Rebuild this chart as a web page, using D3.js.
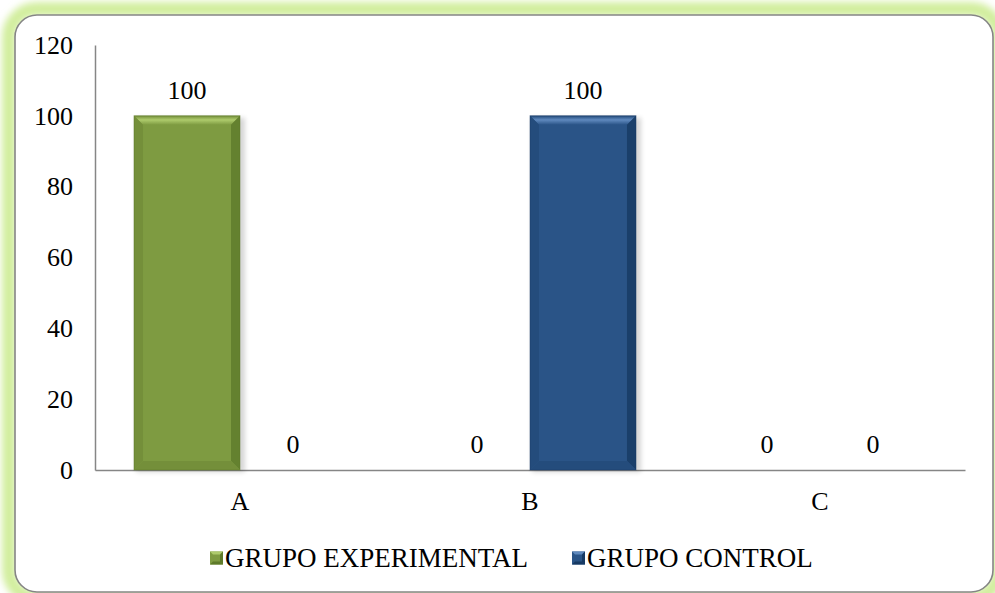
<!DOCTYPE html>
<html>
<head>
<meta charset="utf-8">
<script src="https://cdn.jsdelivr.net/npm/d3@7"></script>
<style>
  html, body { margin: 0; padding: 0; background: #ffffff; }
  svg { display: block; }
  text { font-family: "Liberation Serif", "Times New Roman", serif; fill: #000; }
</style>
</head>
<body>
<svg id="chart" width="995" height="593"></svg>
<script>
// Chart data
const categories = ["A", "B", "C"];
const seriesNames = ["GRUPO EXPERIMENTAL", "GRUPO CONTROL"];
const experimental = [100, 0, 0];
const control = [0, 100, 0];
const yTicks = [0, 20, 40, 60, 80, 100, 120];

const seriesValues = [experimental, control];
const seriesColors = [
  { base: "#7E9B41", light: "#AECB6C", dark: "#5E7A2A", side: "#748F3A" },
  { base: "#2A5487", light: "#5F89BE", dark: "#173A63", side: "#244C7C" }
];

const FONT = "'Liberation Serif', 'Times New Roman', serif";
const FS = "26px";

const svg = d3.select("#chart");
const defs = svg.append("defs");

// Soft green halo around the chart frame
const glow = defs.append("filter").attr("id", "glow")
  .attr("x", "-5%").attr("y", "-5%").attr("width", "110%").attr("height", "110%");
glow.append("feGaussianBlur").attr("stdDeviation", 3.5);

// Light drop shadow under each bar
const shadow = defs.append("filter").attr("id", "barShadow")
  .attr("x", "-20%").attr("y", "-5%").attr("width", "140%").attr("height", "110%");
shadow.append("feGaussianBlur").attr("stdDeviation", 2.5);

// Top bevel gradient
seriesColors.forEach((c, i) => {
  const g = defs.append("linearGradient").attr("id", "bevelTop" + i)
    .attr("x1", 0).attr("y1", 0).attr("x2", 0).attr("y2", 1);
  g.append("stop").attr("offset", "0%").attr("stop-color", c.side);
  g.append("stop").attr("offset", "45%").attr("stop-color", c.light);
  g.append("stop").attr("offset", "100%").attr("stop-color", c.base);
});

const frame = { x: 15, y: 15, w: 978, h: 577, r: 22 };

svg.append("rect")
  .attr("x", frame.x - 6).attr("y", frame.y - 6)
  .attr("width", frame.w + 12).attr("height", frame.h + 12)
  .attr("rx", frame.r + 6)
  .attr("fill", "none")
  .attr("stroke", "#D2EE9E")
  .attr("stroke-width", 14)
  .attr("filter", "url(#glow)");

svg.append("rect")
  .attr("x", frame.x).attr("y", frame.y)
  .attr("width", frame.w).attr("height", frame.h)
  .attr("rx", frame.r)
  .attr("fill", "#ffffff")
  .attr("stroke", "#858585")
  .attr("stroke-width", 1.6);

// Plot area
const plot = { left: 95, right: 965, top: 45, bottom: 470 };

const x = d3.scaleBand()
  .domain(categories)
  .range([plot.left, plot.right])
  .paddingInner(0).paddingOuter(0);

const xInner = d3.scaleBand()
  .domain(d3.range(seriesNames.length))
  .range([0, x.bandwidth()])
  .paddingInner(0)
  .paddingOuter(0.368);

const y = d3.scaleLinear().domain([0, 120]).range([plot.bottom, plot.top]);

// Y axis
const yAxis = d3.axisLeft(y).tickValues(yTicks).tickSize(0).tickPadding(22).tickFormat(d3.format("d"));
const gy = svg.append("g").attr("transform", `translate(${plot.left},0)`).call(yAxis);
gy.select(".domain").attr("stroke", "#868686").attr("stroke-width", 1.5);
gy.selectAll("text").style("font-family", FONT).style("font-size", FS).attr("fill", "#000");

// X axis
const xAxis = d3.axisBottom(x).tickSize(0).tickPadding(22);
const gx = svg.append("g").attr("transform", `translate(0,${plot.bottom})`).call(xAxis);
gx.select(".domain").attr("stroke", "#868686").attr("stroke-width", 1.5);
gx.selectAll("text").style("font-family", FONT).style("font-size", FS).attr("fill", "#000");

// Bevelled bar drawing
function drawBar(g, x0, y0, w, h, c, i) {
  if (h <= 0) return;
  const b = Math.min(9, h / 2, w / 2);
  g.append("rect")
    .attr("x", x0 + 2).attr("y", y0 + 2).attr("width", w + 3).attr("height", h)
    .attr("fill", "#000").attr("opacity", 0.16).attr("filter", "url(#barShadow)");
  g.append("rect").attr("x", x0).attr("y", y0).attr("width", w).attr("height", h).attr("fill", c.base);
  g.append("path")
    .attr("d", `M${x0},${y0}L${x0 + w},${y0}L${x0 + w - b},${y0 + b}L${x0 + b},${y0 + b}Z`)
    .attr("fill", `url(#bevelTop${i})`);
  g.append("path")
    .attr("d", `M${x0},${y0}L${x0 + b},${y0 + b}L${x0 + b},${y0 + h - b}L${x0},${y0 + h}Z`)
    .attr("fill", c.side);
  g.append("path")
    .attr("d", `M${x0 + w},${y0}L${x0 + w},${y0 + h}L${x0 + w - b},${y0 + h - b}L${x0 + w - b},${y0 + b}Z`)
    .attr("fill", c.dark).attr("opacity", 0.8);
  g.append("path")
    .attr("d", `M${x0},${y0 + h}L${x0 + b},${y0 + h - b}L${x0 + w - b},${y0 + h - b}L${x0 + w},${y0 + h}Z`)
    .attr("fill", c.side);
  g.append("rect").attr("x", x0).attr("y", y0).attr("width", w).attr("height", h)
    .attr("fill", "none").attr("stroke", c.dark).attr("stroke-width", 1).attr("opacity", 0.5);
}

const barsG = svg.append("g");
const labelsG = svg.append("g");

categories.forEach((cat, ci) => {
  seriesValues.forEach((vals, si) => {
    const v = vals[ci];
    const bx = x(cat) + xInner(si);
    const bw = xInner.bandwidth();
    drawBar(barsG, bx, y(v), bw, y(0) - y(v), seriesColors[si], si);
    labelsG.append("text")
      .attr("x", bx + bw / 2)
      .attr("y", y(v) - 17)
      .attr("text-anchor", "middle")
      .style("font-family", FONT)
      .style("font-size", FS)
      .text(v);
  });
});

// Legend
const legendY = 558;
const legendItems = [
  { name: seriesNames[0], x: 210, c: seriesColors[0] },
  { name: seriesNames[1], x: 572, c: seriesColors[1] }
];
const lg = svg.append("g");
legendItems.forEach(it => {
  const s = 13, mx = it.x, my = legendY - s / 2;
  const b = 3;
  lg.append("rect").attr("x", mx).attr("y", my).attr("width", s).attr("height", s).attr("fill", it.c.base);
  lg.append("path").attr("d", `M${mx},${my}L${mx + s},${my}L${mx + s - b},${my + b}L${mx + b},${my + b}Z`).attr("fill", it.c.light);
  lg.append("path").attr("d", `M${mx + s},${my}L${mx + s},${my + s}L${mx + s - b},${my + s - b}L${mx + s - b},${my + b}Z`).attr("fill", it.c.dark);
  lg.append("path").attr("d", `M${mx},${my + s}L${mx + b},${my + s - b}L${mx + s - b},${my + s - b}L${mx + s},${my + s}Z`).attr("fill", it.c.dark);
  lg.append("text")
    .attr("x", mx + s + 2)
    .attr("y", legendY)
    .attr("dy", "0.35em")
    .style("font-family", FONT)
    .style("font-size", "27px")
    .text(it.name);
});
</script>
</body>
</html>
